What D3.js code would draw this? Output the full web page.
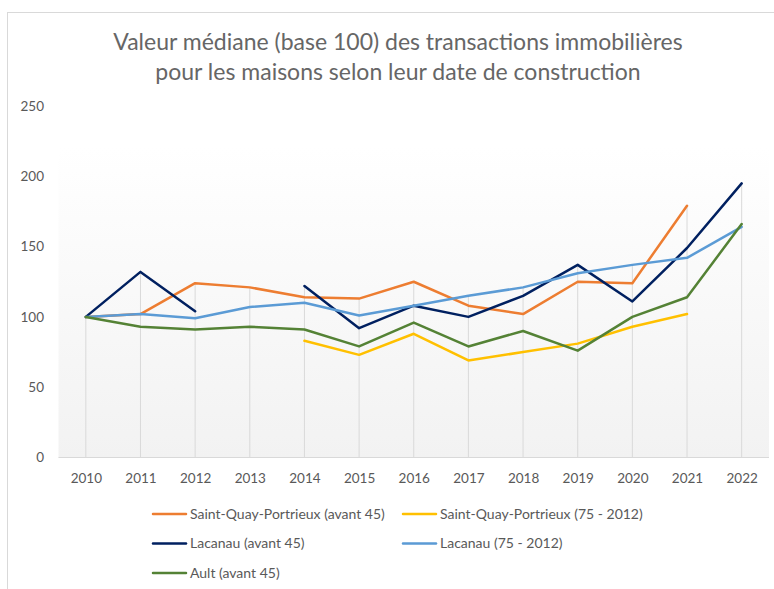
<!DOCTYPE html>
<html>
<head>
<meta charset="utf-8">
<script src="https://cdn.jsdelivr.net/npm/d3@7"></script>
<style>
  body { margin: 0; background: #fff; }
  text { font-family: Lato, "Open Sans", sans-serif; fill: #595959; }
</style>
</head>
<body>
<div id="chart"></div>
<script>
var years = [2010, 2011, 2012, 2013, 2014, 2015, 2016, 2017, 2018, 2019, 2020, 2021, 2022]
var yTicks = [0, 50, 100, 150, 200, 250]

// null = pas de valeur pour l'année
var stqAvant45 = [100, 102, 124, 121, 114, 113, 125, 108, 102, 125, 124, 179, null]
var stq75 = [null, null, null, null, 83, 73, 88, 69, 75, 81, 93, 102, null]
var lacAvant45 = [100, 132, 104, null, 122, 92, 108, 100, 115, 137, 111, 149, 195]
var lac75 = [100, 102, 99, 107, 110, 101, 108, 115, 121, 131, 137, 142, 164]
var aultAvant45 = [100, 93, 91, 93, 91, 79, 96, 79, 90, 76, 100, 114, 166]

var seriesNames = ["Saint-Quay-Portrieux (avant 45)", "Saint-Quay-Portrieux (75 - 2012)",
  "Lacanau (avant 45)", "Lacanau (75 - 2012)", "Ault (avant 45)"]
var seriesValues = [stqAvant45, stq75, lacAvant45, lac75, aultAvant45]
var colors = ["#ED7D31", "#FFC000", "#002060", "#5B9BD5", "#548235"]

var width = 774, height = 589
var plot = {left: 58.5, right: 769, top: 147, bottom: 458}

var svg = d3.select("#chart")
  .append("svg")
    .attr("width", width)
    .attr("height", height)

// cadre du graphique
svg.append("rect")
  .attr("x", 7.5).attr("y", 12.5)
  .attr("width", 820).attr("height", 640)
  .attr("fill", "#fff")
  .attr("stroke", "#d9d9d9")

var grad = svg.append("defs").append("linearGradient")
  .attr("id", "bg").attr("x1", 0).attr("y1", 0).attr("x2", 0).attr("y2", 1)
grad.append("stop").attr("offset", "0%").attr("stop-color", "#ffffff")
grad.append("stop").attr("offset", "100%").attr("stop-color", "#f2f2f2")

svg.append("rect")
  .attr("x", plot.left).attr("y", plot.top)
  .attr("width", plot.right - plot.left).attr("height", plot.bottom - plot.top)
  .attr("fill", "url(#bg)")

var title = svg.append("text")
  .attr("text-anchor", "middle")
  .style("font-size", "23px")
  .style("fill", "#666")
title.append("tspan").attr("x", 398).attr("y", 50)
  .text("Valeur médiane (base 100) des transactions immobilières")
title.append("tspan").attr("x", 398).attr("y", 80)
  .text("pour les maisons selon leur date de construction")

var xScale = d3.scalePoint()
  .domain(years)
  .range([plot.left, plot.right])
  .padding(0.5)

var yScale = d3.scaleLinear()
  .domain([0, 250])
  .range([457.5, 106])

// lignes de projection (du max jusqu'à l'axe)
svg.selectAll(".drop")
  .data(years)
  .enter()
  .append("line")
  .attr("class", "drop")
  .attr("x1", d => xScale(d))
  .attr("x2", d => xScale(d))
  .attr("y1", (d, i) => yScale(d3.max(seriesValues, s => s[i])))
  .attr("y2", yScale(0))
  .attr("stroke", "#d9d9d9")
  .attr("stroke-width", 1)

svg.append("line")
  .attr("x1", plot.left).attr("x2", plot.right)
  .attr("y1", yScale(0)).attr("y2", yScale(0))
  .attr("stroke", "#d9d9d9")

var yAxis = svg.append("g")
  .attr("transform", "translate(44,0)")
  .call(d3.axisLeft(yScale).tickValues(yTicks).tickSize(0).tickPadding(0))
yAxis.select(".domain").remove()
yAxis.selectAll("text")
  .attr("fill", "#595959")
  .style("font-size", "13.5px")
  .style("font-family", "Lato")

var xAxis = svg.append("g")
  .attr("transform", "translate(0," + yScale(0) + ")")
  .call(d3.axisBottom(xScale).tickSize(0).tickPadding(16))
xAxis.select(".domain").remove()
xAxis.selectAll("text")
  .attr("fill", "#595959")
  .style("font-size", "13.5px")
  .style("font-family", "Lato")

var line = d3.line()
  .defined(d => d != null)
  .x((d, i) => xScale(years[i]))
  .y(d => yScale(d))

svg.selectAll(".serie")
  .data(seriesValues)
  .enter()
  .append("path")
  .attr("class", "serie")
  .attr("d", line)
  .attr("fill", "none")
  .attr("stroke", (d, i) => colors[i])
  .attr("stroke-width", 2.5)
  .attr("stroke-linejoin", "round")
  .attr("stroke-linecap", "round")

// légende
var legendPos = [[153, 514], [403, 514], [153, 543.5], [403, 543.5], [153, 573]]
var legend = svg.selectAll(".legend")
  .data(seriesNames)
  .enter()
  .append("g")
  .attr("class", "legend")
  .attr("transform", (d, i) => "translate(" + legendPos[i][0] + "," + legendPos[i][1] + ")")

legend.append("line")
  .attr("x1", 0).attr("x2", 33)
  .attr("stroke", (d, i) => colors[i])
  .attr("stroke-width", 2.5)
  .attr("stroke-linecap", "round")

legend.append("text")
  .attr("x", 37)
  .attr("dy", "0.35em")
  .style("font-size", "14px")
  .text(d => d)
</script>
</body>
</html>
